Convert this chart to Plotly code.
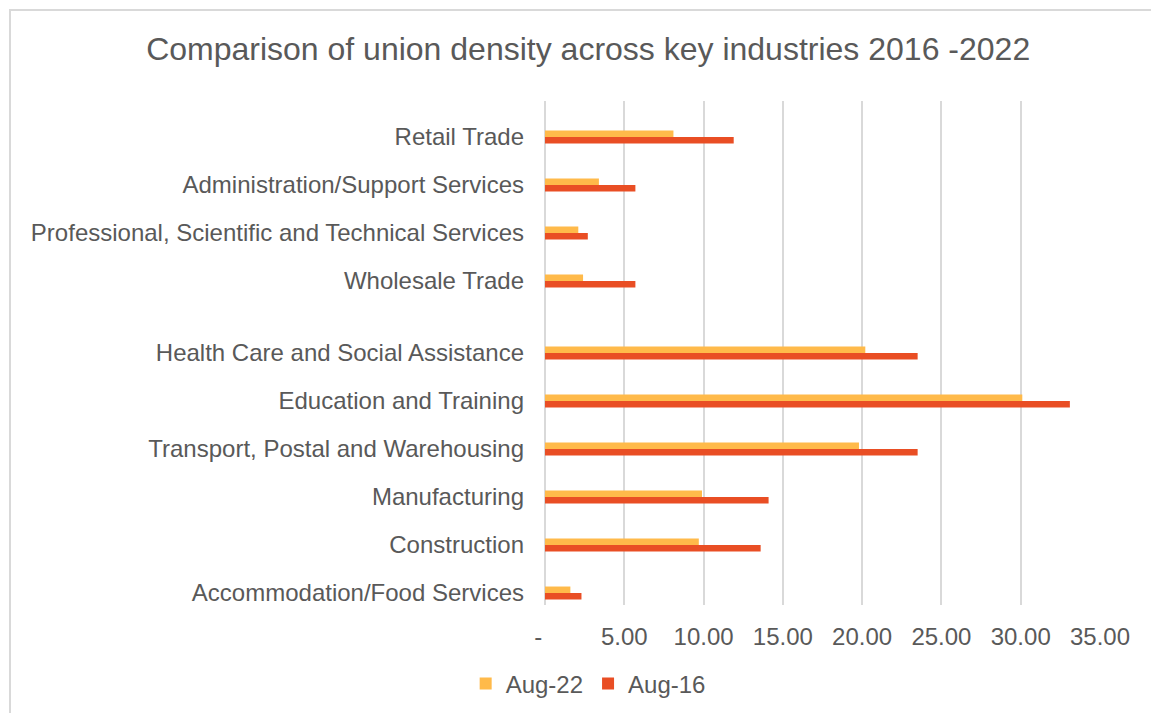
import plotly.graph_objects as go

# Industries listed top to bottom; empty strings are spacer rows in the source table
industries = [
    "",
    "Retail Trade",
    "",
    "Administration/Support Services",
    "",
    "Professional, Scientific and Technical Services",
    "",
    "Wholesale Trade",
    "",
    "",
    "Health Care and Social Assistance",
    "",
    "Education and Training",
    "",
    "Transport, Postal and Warehousing",
    "",
    "Manufacturing",
    "",
    "Construction",
    "",
    "Accommodation/Food Services",
]

# Union density (%) per industry
aug_22 = [None, 8.1, None, 3.4, None, 2.1, None, 2.4, None, None,
          20.2, None, 30.1, None, 19.8, None, 9.9, None, 9.7, None, 1.6]
aug_16 = [None, 11.9, None, 5.7, None, 2.7, None, 5.7, None, None,
          23.5, None, 33.1, None, 23.5, None, 14.1, None, 13.6, None, 2.3]

x_ticks = [0, 5, 10, 15, 20, 25, 30, 35]
x_tick_text = ["-\u00a0\u00a0", "5.00", "10.00", "15.00", "20.00", "25.00", "30.00", "35.00"]

rows = list(range(len(industries)))

TEXT = "#595959"
GRID = "#D9D9D9"
FONT = "Liberation Sans, Arial, sans-serif"

fig = go.Figure()
fig.add_trace(go.Bar(
    name="Aug-22", y=rows, x=aug_22, orientation="h",
    marker=dict(color="#FFBA4A", line=dict(width=0)),
))
fig.add_trace(go.Bar(
    name="Aug-16", y=rows, x=aug_16, orientation="h",
    marker=dict(color="#E94E24", line=dict(width=0)),
))

W, H = 1151, 713
ML, MR, MT, MB = 545, 51, 101, 108
pw, ph = W - ML - MR, H - MT - MB


def px_to_paper_x(px):
    return (px - ML) / pw


def px_to_paper_y(py):
    return (H - MB - py) / ph


fig.update_layout(
    width=W, height=H,
    margin=dict(l=ML, r=MR, t=MT, b=MB, pad=0),
    paper_bgcolor="white", plot_bgcolor="white",
    font=dict(family=FONT, color=TEXT, size=24),
    barmode="group", bargap=0.46, bargroupgap=0,
    title=dict(
        text="Comparison of union density across key industries 2016 -2022",
        x=0.511, xref="container", xanchor="center",
        y=1 - 49 / H, yref="container", yanchor="middle",
        font=dict(size=32, color=TEXT, family=FONT),
    ),
    legend=dict(
        orientation="h", xref="container", yref="container",
        x=0.511, xanchor="center", y=1 - 684 / H, yanchor="middle",
        font=dict(size=24, color=TEXT), bgcolor="rgba(0,0,0,0)",
    ),
    showlegend=True,
    xaxis=dict(
        range=[0, 35], tickvals=x_ticks, ticktext=x_tick_text,
        showgrid=True, gridcolor=GRID, gridwidth=2,
        zeroline=True, zerolinecolor=GRID, zerolinewidth=2,
        showline=False, ticks="", ticklabelstandoff=15,
        tickfont=dict(size=24, color=TEXT), fixedrange=True,
    ),
    yaxis=dict(
        range=[len(industries) - 0.5, -0.5],
        tickvals=rows, ticktext=industries,
        showgrid=False, zeroline=False, showline=False, ticks="",
        ticklabelstandoff=20, tickfont=dict(size=24, color=TEXT),
        fixedrange=True,
    ),
)

# Chart frame
fig.add_shape(
    type="rect", xref="paper", yref="paper",
    x0=px_to_paper_x(10), x1=px_to_paper_x(1170),
    y0=px_to_paper_y(730), y1=px_to_paper_y(10),
    line=dict(color=GRID, width=2), fillcolor="rgba(0,0,0,0)", layer="below",
)

fig.write_html("out.html")
